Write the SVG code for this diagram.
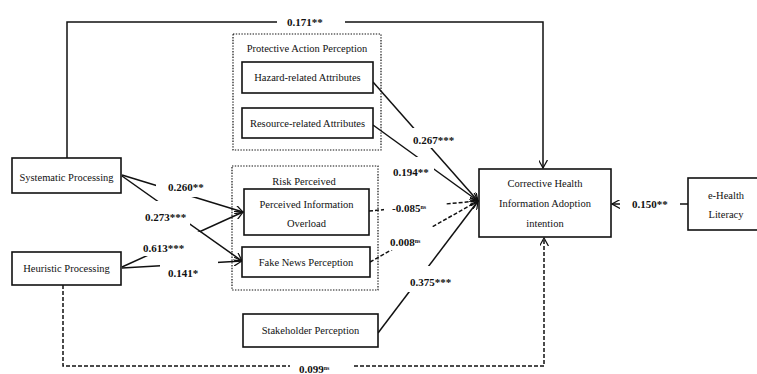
<svg xmlns="http://www.w3.org/2000/svg" width="757" height="374" viewBox="0 0 757 374">
<style>
  .box { fill: #fff; stroke: #111; stroke-width: 1.6; }
  .grp { fill: none; stroke: #111; stroke-width: 1.2; stroke-dasharray: 1.4 1.4; }
  .t { font-family: "Liberation Serif", "Times New Roman", serif; font-size: 10.5px; fill: #111; text-anchor: middle; }
  .ln { fill: none; stroke: #111; stroke-width: 1.5; }
  .dl { fill: none; stroke: #111; stroke-width: 1.5; stroke-dasharray: 4 2; }
  .lb { font-family: "Liberation Serif", "Times New Roman", serif; font-size: 11px; font-weight: bold; fill: #111; }
  .ns { font-size: 6px; }
  .bg { fill: #fff; stroke: none; }
</style>
<defs>
  <marker id="arr" viewBox="0 0 10 10" refX="9" refY="5" markerWidth="9" markerHeight="9" markerUnits="userSpaceOnUse" orient="auto">
    <path d="M0,0 L9,5 L0,10" fill="none" stroke="#111" stroke-width="1.4"/>
  </marker>
</defs>
<rect width="757" height="374" fill="#fff"/>

<g id="connectors">
  <path class="ln" d="M67,158 V22 H543 V168" marker-end="url(#arr)"/>
  <path class="ln" d="M373,82 L478,201" marker-end="url(#arr)"/>
  <path class="ln" d="M373,125 L478,201" marker-end="url(#arr)"/>
  <path class="dl" d="M369,211 L478,201" marker-end="url(#arr)"/>
  <path class="dl" d="M370,262 L478,201" marker-end="url(#arr)"/>
  <path class="ln" d="M378,333 L478,201" marker-end="url(#arr)"/>
  <path class="ln" d="M688,204 L612,204" marker-end="url(#arr)"/>
  <path class="dl" d="M63,285 V366 H544 V238" marker-end="url(#arr)"/>
  <path class="ln" d="M122,175 L243,212" marker-end="url(#arr)"/>
  <path class="ln" d="M122,176 L242,261" marker-end="url(#arr)"/>
  <path class="ln" d="M122,267 L243,212" marker-end="url(#arr)"/>
  <path class="ln" d="M122,268 L242,261" marker-end="url(#arr)"/>

  <rect class="bg" x="277" y="14" width="68" height="16"/>
  <text class="lb" x="287" y="25.5">0.171**</text>
  <rect class="bg" x="412" y="128" width="43" height="20"/>
  <text class="lb" x="413" y="144">0.267***</text>
  <rect class="bg" x="392" y="157" width="42" height="23"/>
  <text class="lb" x="393" y="176">0.194**</text>
  <rect class="bg" x="384" y="200" width="62" height="16"/>
  <text class="lb" x="392" y="212">-0.085<tspan class="ns" dy="-3">ns</tspan></text>
  <rect class="bg" x="389" y="227" width="45" height="23"/>
  <text class="lb" x="390" y="246">0.008<tspan class="ns" dy="-3">ns</tspan></text>
  <rect class="bg" x="405" y="266" width="47" height="26"/>
  <text class="lb" x="410" y="286">0.375***</text>
  <rect class="bg" x="620" y="196" width="60" height="16"/>
  <text class="lb" x="632" y="208">0.150**</text>
  <rect class="bg" x="290" y="359" width="63" height="15"/>
  <text class="lb" x="299" y="372.5">0.099<tspan class="ns" dy="-3">ns</tspan></text>
  <rect class="bg" x="156" y="180" width="48" height="17"/>
  <text class="lb" x="168" y="191">0.260**</text>
  <rect class="bg" x="144" y="201" width="46" height="24"/>
  <text class="lb" x="145" y="221">0.273***</text>
  <rect class="bg" x="143" y="232" width="57" height="24"/>
  <text class="lb" x="143" y="252">0.613***</text>
  <rect class="bg" x="160" y="258" width="58" height="22"/>
  <text class="lb" x="168" y="277">0.141*</text>
</g>

<g id="protective-action-perception">
  <rect class="grp" x="233" y="34" width="148" height="116"/>
  <text class="t" x="307" y="52">Protective Action Perception</text>
</g>
<g id="risk-perceived">
  <rect class="grp" x="232" y="166" width="146" height="124"/>
  <text class="t" x="304" y="184.5">Risk Perceived</text>
</g>
<g id="systematic-processing">
  <rect class="box" x="12" y="158" width="109" height="35"/>
  <text class="t" x="66.5" y="180.5">Systematic Processing</text>
</g>
<g id="heuristic-processing">
  <rect class="box" x="12" y="252" width="109" height="33"/>
  <text class="t" x="66.5" y="271.5">Heuristic Processing</text>
</g>
<g id="hazard-related">
  <rect class="box" x="242" y="62" width="131" height="31"/>
  <text class="t" x="307.5" y="81">Hazard-related Attributes</text>
</g>
<g id="resource-related">
  <rect class="box" x="242" y="108" width="131" height="30"/>
  <text class="t" x="307.5" y="126.5">Resource-related Attributes</text>
</g>
<g id="perceived-information-overload">
  <rect class="box" x="244" y="189" width="125" height="46"/>
  <text class="t" x="306.5" y="207.5">Perceived Information</text>
  <text class="t" x="306.5" y="226.5">Overload</text>
</g>
<g id="fake-news-perception">
  <rect class="box" x="242" y="247" width="128" height="30"/>
  <text class="t" x="306" y="265.5">Fake News Perception</text>
</g>
<g id="stakeholder-perception">
  <rect class="box" x="243" y="314" width="135" height="33"/>
  <text class="t" x="310.5" y="334">Stakeholder Perception</text>
</g>
<g id="corrective-health">
  <rect class="box" x="479" y="169" width="132" height="68"/>
  <text class="t" x="545" y="186.5">Corrective Health</text>
  <text class="t" x="545" y="206.5">Information Adoption</text>
  <text class="t" x="545" y="226.5">intention</text>
</g>
<g id="e-health-literacy">
  <rect class="box" x="688" y="178" width="76" height="52"/>
  <text class="t" x="726" y="198.5">e-Health</text>
  <text class="t" x="726" y="217.5">Literacy</text>
</g>
</svg>
